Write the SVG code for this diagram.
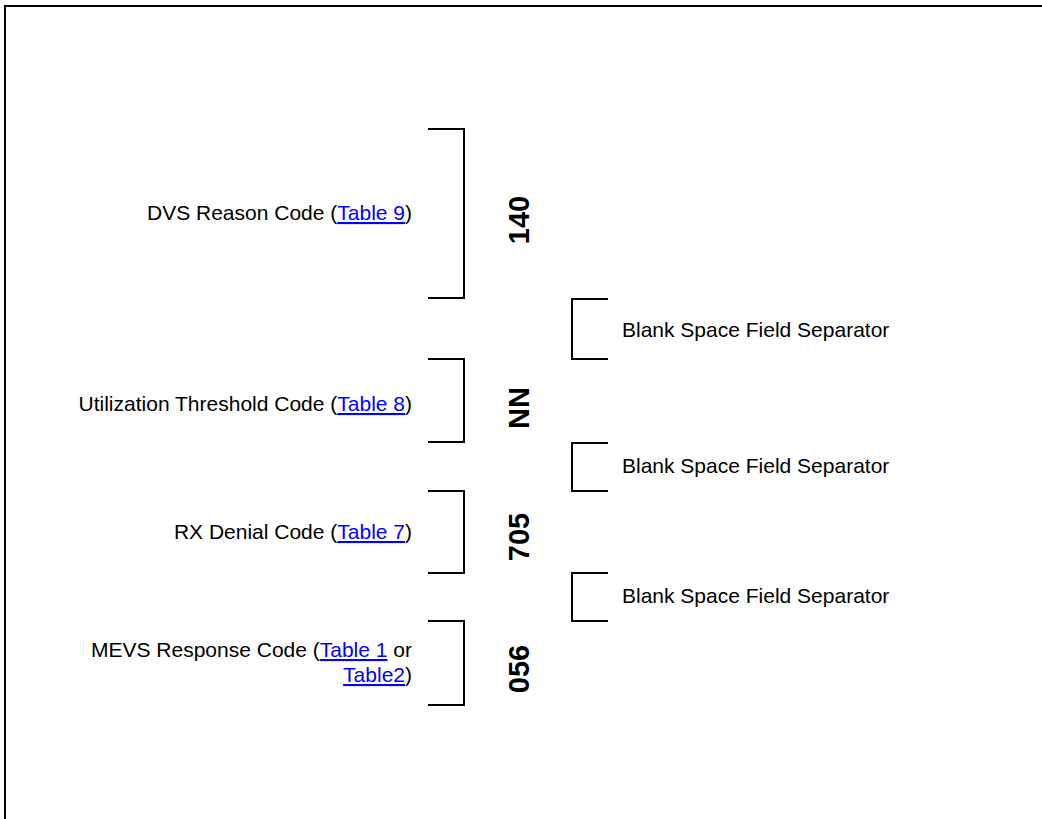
<svg xmlns="http://www.w3.org/2000/svg" width="1042" height="819" viewBox="0 0 1042 819">
<style>
.t{font-family:"Liberation Sans",Arial,sans-serif;font-size:21px;fill:#000}
.r{text-anchor:end}
.lk{fill:#0000FF;text-decoration:underline}
.n{font-family:"Liberation Sans",Arial,sans-serif;font-size:29px;font-weight:bold;fill:#000;text-anchor:middle}
.b{fill:none;stroke:#000;stroke-width:2}
</style>
<rect width="1042" height="819" fill="#fff"/>
<path class="b" d="M5,819 V6 H1042"/>
<g id="connectors">
<path class="b" d="M428,129 H464 V298 H428"/>
<path class="b" d="M428,359 H464 V442 H428"/>
<path class="b" d="M428,491 H464 V573 H428"/>
<path class="b" d="M428,621 H464 V705 H428"/>
<path class="b" d="M608,299 H572 V359 H608"/>
<path class="b" d="M608,443 H572 V491 H608"/>
<path class="b" d="M608,573 H572 V621 H608"/>
</g>
<g id="dvs">
<text class="t r" x="412" y="220">DVS Reason Code (<tspan class="lk">Table 9</tspan>)</text>
<text class="n" transform="translate(529,220) rotate(-90)">140</text>
</g>
<g id="sep1"><text class="t" x="622" y="337">Blank Space Field Separator</text></g>
<g id="util">
<text class="t r" x="412" y="411">Utilization Threshold Code (<tspan class="lk">Table 8</tspan>)</text>
<text class="n" transform="translate(529,408) rotate(-90)">NN</text>
</g>
<g id="sep2"><text class="t" x="622" y="473">Blank Space Field Separator</text></g>
<g id="rx">
<text class="t r" x="412" y="539">RX Denial Code (<tspan class="lk">Table 7</tspan>)</text>
<text class="n" transform="translate(529,537) rotate(-90)">705</text>
</g>
<g id="sep3"><text class="t" x="622" y="603">Blank Space Field Separator</text></g>
<g id="mevs">
<text class="t r" x="412" y="657">MEVS Response Code (<tspan class="lk">Table 1</tspan> or</text>
<text class="t r" x="412" y="682"><tspan class="lk">Table2</tspan>)</text>
<text class="n" transform="translate(529,669) rotate(-90)">056</text>
</g>
</svg>
